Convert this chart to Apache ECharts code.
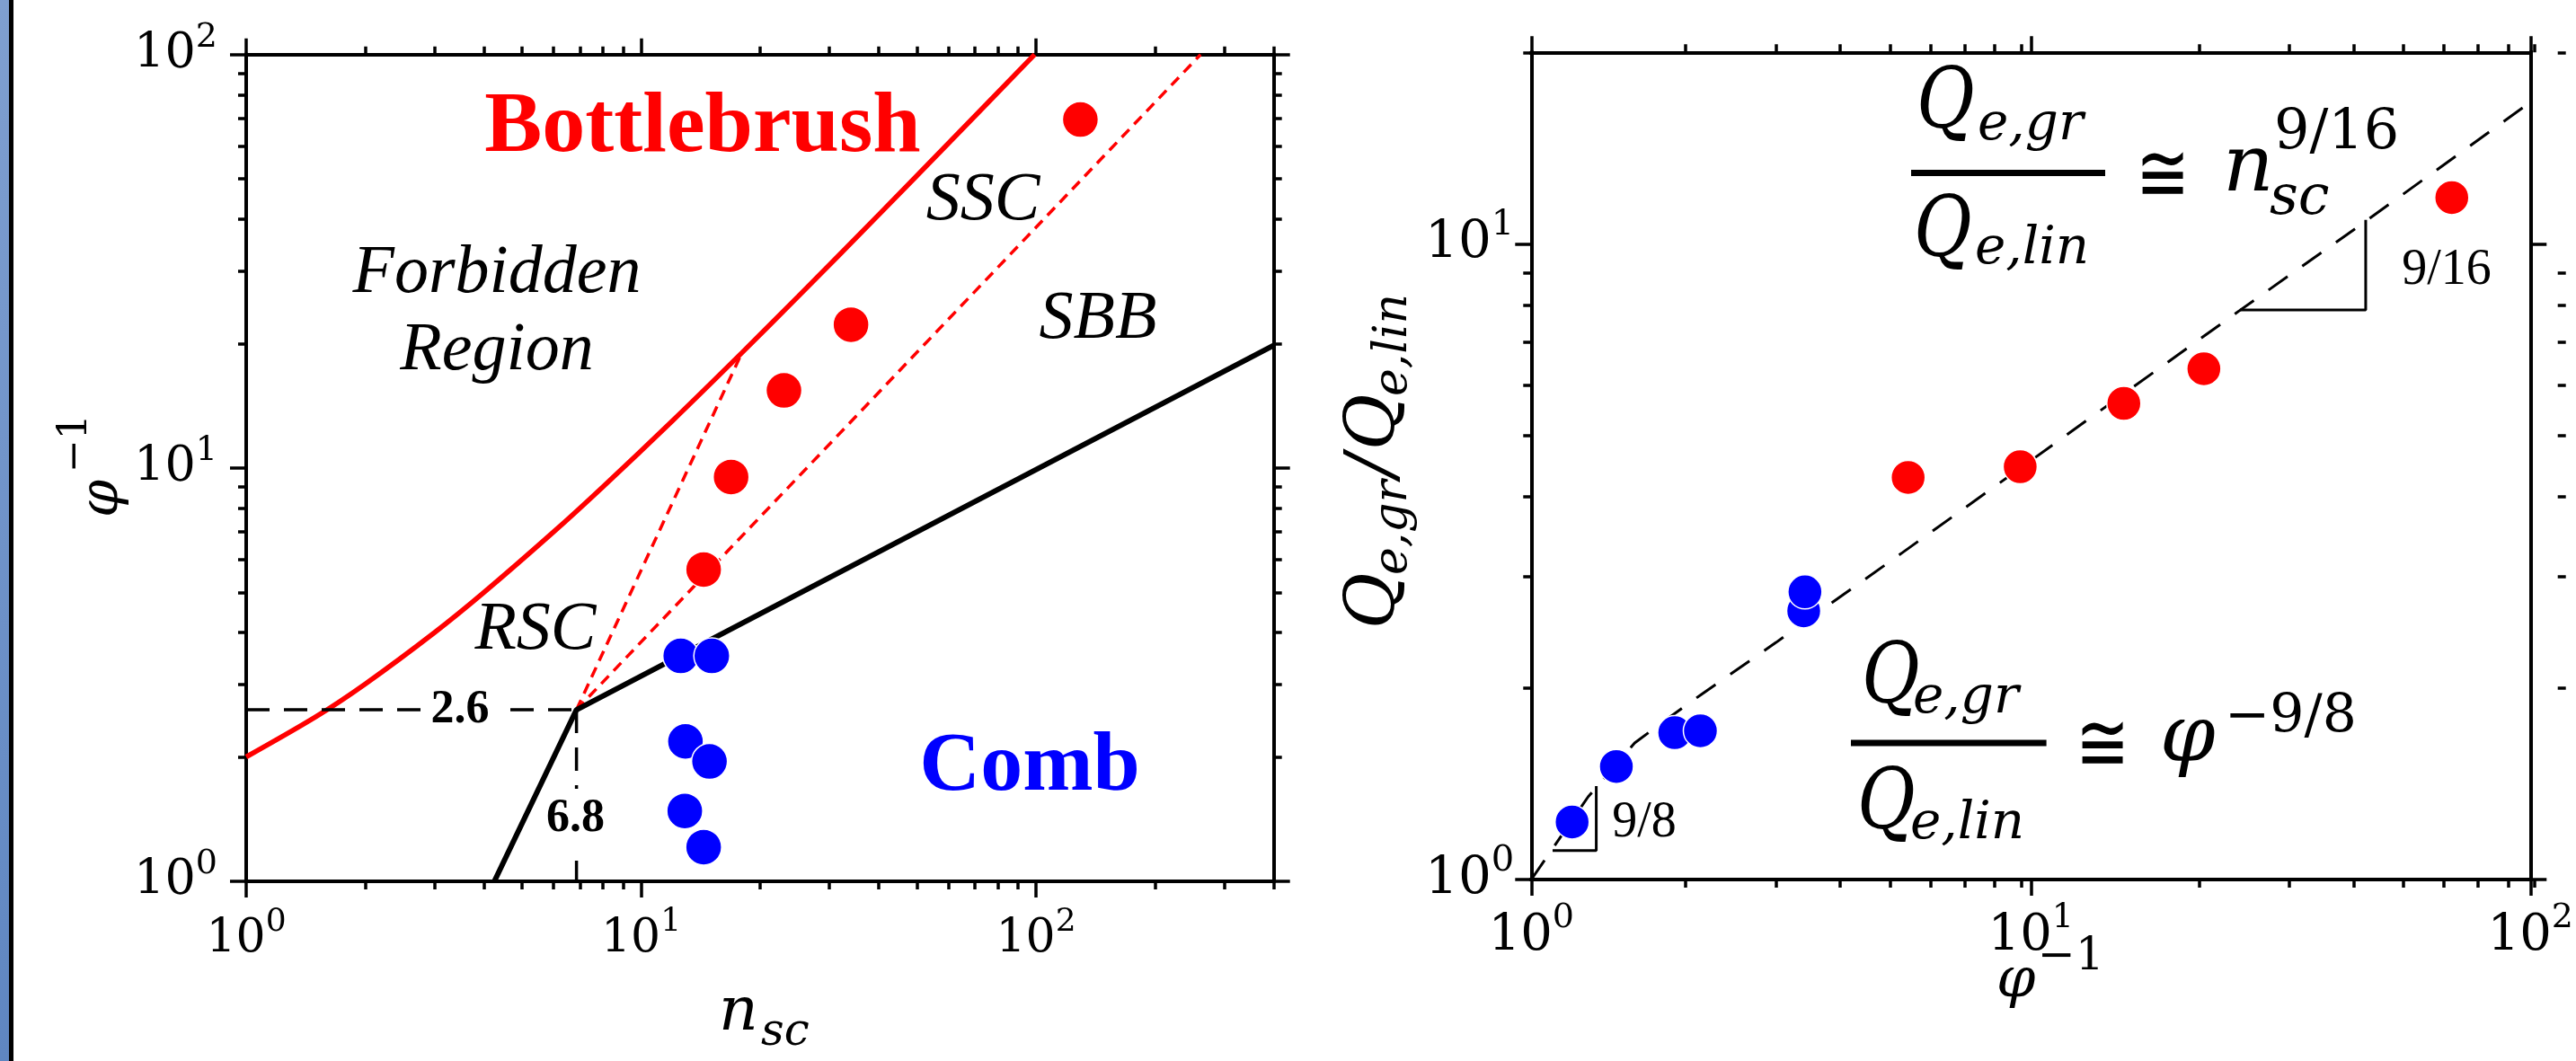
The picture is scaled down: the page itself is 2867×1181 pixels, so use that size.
<!DOCTYPE html>
<html><head><meta charset="utf-8">
<script src="https://cdn.jsdelivr.net/npm/echarts@6/dist/echarts.min.js"></script>
<style>html,body{margin:0;padding:0;background:#fff}#c{width:2867px;height:1181px}</style>
</head><body><div id="c"></div>
<script>
// ================= DATA =================
// Left panel: diagram of states (x: n_sc, y: phi^-1)
const bbBoundaryN   = [1, 1.5, 2, 3, 4, 6, 8, 12, 18, 25, 40, 60, 99.2];
const bbBoundaryPhi = [2, 2.5, 3, 4, 5, 7, 9, 13, 19, 26, 41, 61, 100];
const rscSscN   = [6.86, 18.0];
const rscSscPhi = [2.6, 19.0];
const sscSbbN   = [6.86, 261];
const sscSbbPhi = [2.6, 100];
const combBbN   = [4.25, 6.86, 400];
const combBbPhi = [1, 2.6, 19.8];
const guideHN   = [1, 6.86];
const guideHPhi = [2.6, 2.6];
const guideVN   = [6.86, 6.86];
const guideVPhi = [2.6, 1];
const bbN    = [14.4, 16.9, 23.0, 34.0, 129.5];
const bbPhi  = [5.68, 9.51, 15.4, 22.2, 69.6];
const combN   = [12.6, 15.1, 12.95, 14.9, 12.9, 14.4];
const combPhi = [3.51, 3.51, 2.18, 1.95, 1.48, 1.21];

// Right panel: Q_e,gr/Q_e,lin vs phi^-1
const bbPhiInv   = [5.68, 9.52, 15.35, 22.2, 69.6];
const bbQ        = [4.29, 4.46, 5.61, 6.36, 11.82];
const combPhiInv = [1.207, 1.48, 1.937, 2.18, 3.51, 3.53];
const combQ      = [1.232, 1.506, 1.702, 1.714, 2.646, 2.834];
const fitPhiInv  = [1, 1.3, 1.45, 1.61, 1.8, 2.19, 3.09, 5.54, 10, 26.1, 46.8, 100];
const fitQ       = [1, 1.35, 1.49, 1.64, 1.75, 1.955, 2.36, 3.27, 4.56, 7.84, 10.85, 16.7];
const slopeLowPhiInv  = [1.103, 1.349, 1.349];
const slopeLowQ       = [1.111, 1.111, 1.403];
const slopeHighPhiInv = [26.2, 46.8, 46.8];
const slopeHighQ      = [7.87, 7.87, 10.9];

// Ticks
const leftXMajor  = [1, 10, 100];
const leftXExp    = ['0', '1', '2'];
const leftXMinor  = [2,3,4,5,6,7,8,9,20,30,40,50,60,70,80,90,200,300,400];
const leftYMajor  = [1, 10, 100];
const leftYExp    = ['0', '1', '2'];
const leftYMinor  = [2,3,4,5,6,7,8,9,20,30,40,50,60,70,80,90];
const rightXMajor = [1, 10, 100];
const rightXExp   = ['0', '1', '2'];
const rightXMinor = [2,3,4,5,6,7,8,9,20,30,40,50,60,70,80,90];
const rightYMajor = [1, 10];
const rightYExp   = ['0', '1'];
const rightYMinor = [2,3,4,5,6,7,8,9,20];

// ================= CHART =================
const SERIF = '"Liberation Serif", "Times New Roman", serif';
const TICKF = '"DejaVu Serif", serif';
const MATH  = '"DejaVu Serif", serif';
const RED = '#ff0000', BLUE = '#0000ff';

const chart = echarts.init(document.getElementById('c'), null, {renderer: 'canvas', width: 2867, height: 1181});
const pairs = (xs, ys) => xs.map((x, i) => [x, ys[i]]);

const gridL = {left: 274, top: 60.7, width: 1143.7, height: 920.3, show: false};
const gridR = {left: 1704.3, top: 58.3, width: 1142.4, height: 920.7, show: false};

function expLabels(ticks, exps, size, supSize, margin) {
  return {
    show: true, margin: margin, customValues: ticks, color: '#000', fontFamily: TICKF, fontSize: size,
    formatter: function (v) {
      let best = 1e9, idx = 0;
      ticks.forEach((t, k) => { const d = Math.abs(Math.log10(v) - Math.log10(t)); if (d < best) { best = d; idx = k; } });
      return '{b|10}{s|' + exps[idx] + '}';
    },
    rich: {
      b: {fontSize: size, fontFamily: TICKF, color: '#000', lineHeight: Math.round(size * 1.4)},
      s: {fontSize: supSize, fontFamily: TICKF, color: '#000', verticalAlign: 'top', lineHeight: Math.round(supSize * 1.1)}
    }
  };
}

function axisPair(dim, gridIndex, min, max, ticks, tickLen, showLine, labelOpt) {
  const pos = dim === 'x' ? ['bottom', 'top'] : ['left', 'right'];
  return pos.map((p, k) => ({
    type: 'log', logBase: 10, gridIndex: gridIndex, position: p, min: min, max: max,
    axisLine: {show: showLine, onZero: false, lineStyle: {color: '#000', width: 4, cap: 'square'}},
    axisTick: {show: true, inside: false, length: tickLen, customValues: ticks, lineStyle: {color: '#000', width: 3.5}},
    axisLabel: (k === 0 && labelOpt) ? labelOpt : {show: false},
    splitLine: {show: false}, minorTick: {show: false}, minorSplitLine: {show: false}
  }));
}

const xAxes = [].concat(
  axisPair('x', 0, 1, 400, leftXMajor, 18, true, expLabels(leftXMajor, leftXExp, 52, 36, 28)),
  axisPair('x', 1, 1, 400, leftXMinor, 9, false, null),
  axisPair('x', 2, 1, 100, rightXMajor, 18, true, expLabels(rightXMajor, rightXExp, 56, 38, 24)),
  axisPair('x', 3, 1, 100, rightXMinor, 9, false, null)
);
const yAxes = [].concat(
  axisPair('y', 0, 1, 100, leftYMajor, 18, true, expLabels(leftYMajor, leftYExp, 54, 38, 32)),
  axisPair('y', 1, 1, 100, leftYMinor, 9, false, null),
  axisPair('y', 2, 1, 20, rightYMajor, 18, true, expLabels(rightYMajor, rightYExp, 58, 40, 19)),
  axisPair('y', 3, 1, 20, rightYMinor, 9, false, null)
);

function lineS(xi, yi, data, color, width, type, z) {
  return {type: 'line', xAxisIndex: xi, yAxisIndex: yi, data: data, symbol: 'none', showSymbol: false,
    lineStyle: {color: color, width: width, type: type || 'solid'}, z: z || 2, silent: true, animation: false};
}
function dotS(xi, yi, data, color, size) {
  return {type: 'scatter', xAxisIndex: xi, yAxisIndex: yi, data: data, symbol: 'circle', symbolSize: size,
    itemStyle: {color: color, borderColor: '#fff', borderWidth: 1.5, opacity: 1}, z: 6, silent: true, animation: false};
}

const series = [
  Object.assign(lineS(0, 0, pairs(bbBoundaryN, bbBoundaryPhi), RED, 5.5), {smooth: 0.3}),
  lineS(0, 0, pairs(rscSscN, rscSscPhi), RED, 3.5, [12, 8]),
  lineS(0, 0, pairs(sscSbbN, sscSbbPhi), RED, 3.5, [12, 8]),
  lineS(0, 0, pairs(combBbN, combBbPhi), '#000', 6),
  lineS(0, 0, pairs(guideHN, guideHPhi), '#000', 3.5, [26, 16]),
  lineS(0, 0, pairs(guideVN, guideVPhi), '#000', 3.5, [26, 16]),
  dotS(0, 0, pairs(bbN, bbPhi), RED, 40),
  dotS(0, 0, pairs(combN, combPhi), BLUE, 40),
  lineS(4, 4, pairs(fitPhiInv, fitQ), '#000', 3, [26, 20]),
  lineS(4, 4, pairs(slopeLowPhiInv, slopeLowQ), '#000', 3),
  lineS(4, 4, pairs(slopeHighPhiInv, slopeHighQ), '#000', 3),
  dotS(4, 4, pairs(bbPhiInv, bbQ), RED, 38),
  dotS(4, 4, pairs(combPhiInv, combQ), BLUE, 38)
];

// ---------- text helpers ----------
function T(x, y, text, o) {
  const al = o.align || 'center';
  const st = {text: text, fill: o.color || '#000', fontSize: o.size, fontFamily: o.family || SERIF,
    fontStyle: o.italic ? 'italic' : 'normal', fontWeight: o.bold ? 'bold' : 'normal',
    align: al, verticalAlign: 'middle', textAlign: al, textVerticalAlign: 'middle'};
  if (o.bg) { st.backgroundColor = o.bg; st.textBackgroundColor = o.bg; st.padding = o.pad; st.textPadding = o.pad; }
  const el = {type: 'text', x: x, y: y, z: o.z || 50, silent: true, style: st};
  if (o.sx) el.scaleX = o.sx;
  return el;
}
function B(xLeft, baseline, text, o) {
  return T(xLeft, baseline - 0.345 * o.size, text, Object.assign({align: 'left'}, o));
}
function bar(x1, x2, y, w) {
  return {type: 'line', z: 50, silent: true, shape: {x1: x1, y1: y, x2: x2, y2: y}, style: {stroke: '#000', lineWidth: w}};
}
const QS = 0.84;

const graphics = [
  // left frame strip
  {type: 'rect', z: 60, silent: true, shape: {x: 0, y: 0, width: 10, height: 1181},
    style: {fill: new echarts.graphic.LinearGradient(0, 0, 0, 1, [{offset: 0, color: '#7f9fd0'}, {offset: 1, color: '#5f86c1'}])}},
  {type: 'rect', z: 60, silent: true, shape: {x: 10, y: 0, width: 5, height: 1181}, style: {fill: '#000'}},

  // left panel annotations
  T(782, 143, 'Bottlebrush', {size: 96, bold: true, color: RED}),
  T(1146, 855, 'Comb', {size: 94, bold: true, color: BLUE}),
  T(553, 305, 'Forbidden', {size: 76, italic: true}),
  T(553, 391, 'Region', {size: 76, italic: true}),
  T(1094, 224, 'SSC', {size: 76, italic: true}),
  T(1222, 356, 'SBB', {size: 76, italic: true}),
  T(596, 702, 'RSC', {size: 76, italic: true}),
  T(512, 791, '2.6', {size: 52, bold: true, bg: '#fff', pad: [2, 10]}),
  T(640.5, 912, '6.8', {size: 52, bold: true, bg: '#fff', pad: [8, 4]}),

  // left axis titles
  B(800, 1152, 'n', {size: 68, italic: true, family: MATH}),
  B(847, 1167, 'sc', {size: 50, italic: true, family: MATH}),
  {type: 'group', x: 136, y: 530, rotation: Math.PI / 2, children: [
    B(-46, 0, 'φ', {size: 60, italic: true, family: MATH}),
    B(4, -36, '−1', {size: 44, family: MATH})
  ]},

  // right axis titles
  B(2222, 1114, 'φ', {size: 62, italic: true, family: MATH}),
  B(2268, 1083, '−1', {size: 50, family: MATH}),
  {type: 'group', x: 1557, y: 518, rotation: Math.PI / 2, children: [
    B(-182, 0, 'Q', {size: 76, italic: true, family: MATH}),
    B(-122, 12, 'e,gr', {size: 52, italic: true, family: MATH}),
    B(-13, 0, '/', {size: 76, italic: true, family: MATH}),
    B(17, 0, 'Q', {size: 76, italic: true, family: MATH}),
    B(77, 12, 'e,lin', {size: 52, italic: true, family: MATH})
  ]},

  // slope labels
  T(1830, 916, '9/8', {size: 56}),
  T(2723, 301, '9/16', {size: 56}),

  // top formula
  B(2133, 150, 'Q', {size: 94, italic: true, family: MATH, sx: QS}),
  B(2201, 160, 'e,gr', {size: 58, italic: true, family: MATH}),
  bar(2127, 2343, 192.5, 7),
  B(2130, 293, 'Q', {size: 94, italic: true, family: MATH, sx: QS}),
  B(2198, 298, 'e,lin', {size: 58, italic: true, family: MATH}),
  T(2407, 200, '≅', {size: 92, family: MATH, sx: 0.78}),
  B(2474, 220, 'n', {size: 88, italic: true, family: MATH}),
  B(2526, 243, 'sc', {size: 62, italic: true, family: MATH}),
  B(2531, 170, '9/16', {size: 62, family: MATH}),

  // bottom formula
  B(2072, 790, 'Q', {size: 94, italic: true, family: MATH, sx: QS}),
  B(2129, 798, 'e,gr', {size: 58, italic: true, family: MATH}),
  bar(2060, 2277.6, 827, 7),
  B(2067, 930, 'Q', {size: 94, italic: true, family: MATH, sx: QS}),
  B(2126, 938, 'e,lin', {size: 58, italic: true, family: MATH}),
  T(2340, 834, '≅', {size: 92, family: MATH, sx: 0.78}),
  B(2404, 855, 'φ', {size: 88, italic: true, family: MATH}),
  B(2476, 820, '−9/8', {size: 60, family: MATH})
];

chart.setOption({
  animation: false,
  backgroundColor: '#fff',
  grid: [gridL, Object.assign({}, gridL), gridR, Object.assign({}, gridR)],
  xAxis: xAxes,
  yAxis: yAxes,
  series: series,
  graphic: {elements: graphics}
});
</script>
</body></html>
